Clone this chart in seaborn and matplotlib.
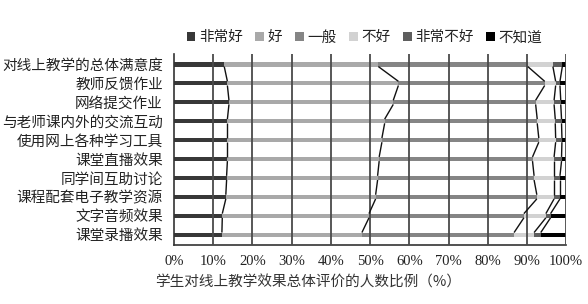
import matplotlib
matplotlib.use("Agg")
import matplotlib.pyplot as plt
from matplotlib.patches import Patch
import numpy as np
import pandas as pd
import seaborn as sns

# Survey items (top to bottom) and the share of each rating, in percent
items = [
    "对线上教学的总体满意度",
    "教师反馈作业",
    "网络提交作业",
    "与老师课内外的交流互动",
    "使用网上各种学习工具",
    "课堂直播效果",
    "同学间互助讨论",
    "课程配套电子教学资源",
    "文字音频效果",
    "课堂录播效果",
]
ratings = ["非常好", "好", "一般", "不好", "非常不好", "不知道"]

very_good = [12.8, 13.6, 14.0, 13.6, 13.6, 13.6, 13.4, 13.2, 12.3, 12.2]
good      = [39.3, 43.6, 41.9, 40.1, 39.4, 38.7, 38.5, 38.2, 37.4, 35.7]
average   = [38.1, 37.3, 36.3, 38.9, 40.0, 39.1, 39.9, 41.1, 39.5, 38.8]
poor      = [6.4, 2.8, 4.7, 4.6, 4.3, 5.5, 5.1, 4.4, 5.6, 5.1]
very_poor = [2.4, 1.1, 1.7, 1.6, 1.6, 1.9, 1.5, 1.5, 1.2, 1.7]
unknown   = [1.0, 1.6, 1.4, 1.2, 1.1, 1.2, 1.6, 1.6, 4.0, 6.5]

xticks = list(range(0, 101, 10))
xtick_labels = [f"{v}%" for v in xticks]

colors = ["#383838", "#a9a9a9", "#858585", "#d2d2d2", "#5e5e5e", "#000000"]

sns.set_theme(style="white")
plt.rcParams["font.family"] = ["Noto Sans CJK SC", "DejaVu Sans"]

series = [very_good, good, average, poor, very_poor, unknown]
cum = np.cumsum(np.array(series), axis=0)  # shape (6, 10)

df = pd.DataFrame({"item": items})
for k, name in enumerate(ratings):
    df[name] = cum[k]

fig = plt.figure(figsize=(5.88, 3.04), dpi=100)
ax = fig.add_axes([0.296, 0.194, 0.667, 0.628])

bar_h = 0.22
# stacked bars: draw cumulative totals from the widest down
for k in range(len(ratings) - 1, -1, -1):
    sns.barplot(data=df, x=ratings[k], y="item", orient="h", color=colors[k],
                width=bar_h, saturation=1, ax=ax, zorder=2, linewidth=0)

ax.set_xlim(0, 100)
ax.set_ylim(len(items) - 0.45, -0.55)

# vertical gridlines
for v in xticks[1:]:
    ax.axvline(v, color="#4a4a4a", lw=1.3, zorder=3)

# series lines joining the boundaries of neighbouring bars
for k in range(len(ratings) - 1):
    for i in range(len(items) - 1):
        ax.plot([cum[k][i], cum[k][i + 1]],
                [i + bar_h / 2, i + 1 - bar_h / 2],
                color="#111111", lw=1.0, zorder=4, solid_capstyle="butt")

for s in ["top", "right"]:
    ax.spines[s].set_visible(False)
for s in ["left", "bottom"]:
    ax.spines[s].set_color("#333333")
    ax.spines[s].set_linewidth(1.2)

ax.set_xticks(xticks)
ax.set_xticklabels(xtick_labels, family=["Liberation Serif", "DejaVu Serif"], fontsize=10.5, color="#222222")
ax.tick_params(axis="x", direction="out", length=4, width=1.1, color="#333333", pad=3)
ax.tick_params(axis="y", length=0, pad=8)
for lab in ax.get_yticklabels():
    lab.set_fontsize(10.5)
    lab.set_color("#222222")
ax.set_xlabel("")
ax.set_ylabel("")

handles = [Patch(facecolor=c, edgecolor="none") for c in colors]
fig.legend(handles, ratings, loc="center", bbox_to_anchor=(0.62, 0.877), ncol=6,
           frameon=False, fontsize=10.5, handlelength=0.6, handleheight=0.6,
           handletextpad=0.25, columnspacing=0.85, labelcolor="#222222")

fig.text(0.264, 0.07, "学生对线上教学效果总体评价的人数比例（%）", fontsize=10.5,
         color="#333333", ha="left", va="center")

fig.savefig("out.png", dpi=100, facecolor="white")
